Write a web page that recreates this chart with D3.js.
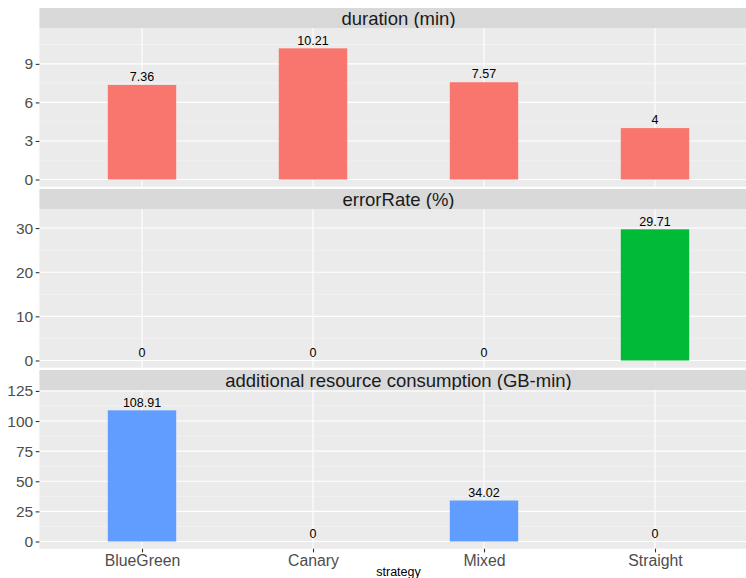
<!DOCTYPE html>
<html>
<head>
<meta charset="utf-8">
<script src="https://cdn.jsdelivr.net/npm/d3@7"></script>
<style>
  body { margin: 0; background: #fff; }
  svg { display: block; font-family: "Liberation Sans", Arial, Helvetica, sans-serif; }
</style>
</head>
<body>
<svg id="chart" width="746" height="578"></svg>
<script>
const categories = ["BlueGreen", "Canary", "Mixed", "Straight"];
const panelTitles = ["duration (min)", "errorRate (%)", "additional resource consumption (GB-min)"];
const durationValues = [7.36, 10.21, 7.57, 4];
const errorRateValues = [0, 0, 0, 29.71];
const resourceValues = [108.91, 0, 34.02, 0];
const durationTicks = [0, 3, 6, 9];
const errorRateTicks = [0, 10, 20, 30];
const resourceTicks = [0, 25, 50, 75, 100, 125];
const panelColors = ["#F8766D", "#00BA38", "#619CFF"];
const xAxisTitle = "strategy";

const panels = [
  { title: panelTitles[0], values: durationValues, ticks: durationTicks, color: panelColors[0] },
  { title: panelTitles[1], values: errorRateValues, ticks: errorRateTicks, color: panelColors[1] },
  { title: panelTitles[2], values: resourceValues, ticks: resourceTicks, color: panelColors[2] }
];

const svg = d3.select("#chart");
const left = 39.4, right = 757.6;
const stripTops = [8, 189, 370];
const stripH = 20;
const plotH = 158.7;

const x = d3.scalePoint().domain(categories).range([left, right]).padding(0.6);
const step = x.step();
const barW = step * 0.4;

panels.forEach((p, i) => {
  const st = stripTops[i];
  const top = st + stripH;
  const bottom = top + plotH;
  const maxV = d3.max(p.values) * 1.1;
  const y = d3.scaleLinear().domain([-0.05 * maxV, maxV * 1.05]).range([bottom, top]);

  const g = svg.append("g");
  // strip
  g.append("rect").attr("x", left).attr("y", st).attr("width", right - left).attr("height", stripH).attr("fill", "#D9D9D9");
  g.append("text").attr("x", (left + right) / 2).attr("y", st + stripH / 2).attr("dy", "0.36em")
    .attr("text-anchor", "middle").attr("font-size", 18.5).attr("fill", "#1A1A1A").text(p.title);
  // panel bg
  g.append("rect").attr("x", left).attr("y", top).attr("width", right - left).attr("height", plotH).attr("fill", "#EBEBEB");

  // minor grid
  const tstep = p.ticks[1] - p.ticks[0];
  const dom = y.domain();
  const minors = [];
  for (let k = -1; k <= p.ticks.length; k++) {
    const v = p.ticks[0] + (k + 0.5) * tstep;
    if (v >= dom[0] && v <= dom[1]) minors.push(v);
  }
  g.selectAll(".minor").data(minors).join("line")
    .attr("x1", left).attr("x2", right).attr("y1", d => y(d)).attr("y2", d => y(d))
    .attr("stroke", "#F5F5F5").attr("stroke-width", 0.55);
  // major grid
  g.selectAll(".majory").data(p.ticks).join("line")
    .attr("x1", left).attr("x2", right).attr("y1", d => y(d)).attr("y2", d => y(d))
    .attr("stroke", "#FFFFFF").attr("stroke-width", 1.1);
  g.selectAll(".majorx").data(categories).join("line")
    .attr("x1", d => x(d)).attr("x2", d => x(d)).attr("y1", top).attr("y2", bottom)
    .attr("stroke", "#FFFFFF").attr("stroke-width", 1.1);

  // bars
  const data = categories.map((c, j) => ({ c, v: p.values[j] }));
  g.selectAll(".bar").data(data).join("rect")
    .attr("x", d => x(d.c) - barW / 2).attr("width", barW)
    .attr("y", d => Math.min(y(d.v), y(0))).attr("height", d => Math.abs(y(0) - y(d.v)))
    .attr("fill", p.color);
  // labels
  g.selectAll(".lbl").data(data).join("text")
    .attr("x", d => x(d.c)).attr("y", d => y(d.v) - 3.8)
    .attr("text-anchor", "middle").attr("font-size", 12.5).attr("fill", "#000")
    .text(d => String(d.v));

  // y axis
  const ax = d3.axisLeft(y).tickValues(p.ticks).tickSize(3.7).tickPadding(2.5).tickFormat(d3.format("d"));
  const axg = g.append("g").attr("transform", `translate(${left},0)`).call(ax);
  axg.select(".domain").remove();
  axg.selectAll(".tick line").attr("stroke", "#333333").attr("stroke-width", 1.1);
  axg.selectAll(".tick text").attr("fill", "#4D4D4D").attr("font-size", 15.5)
    .attr("font-family", "'Liberation Sans', Arial, sans-serif");

  if (i === panels.length - 1) {
    const xa = d3.axisBottom(x).tickSize(3.7).tickPadding(2.5);
    const xg = g.append("g").attr("transform", `translate(0,${bottom})`).call(xa);
    xg.select(".domain").remove();
    xg.selectAll(".tick line").attr("stroke", "#333333").attr("stroke-width", 1.1);
    xg.selectAll(".tick text").attr("fill", "#4D4D4D").attr("font-size", 15.8)
      .attr("font-family", "'Liberation Sans', Arial, sans-serif");
    svg.append("text").attr("x", (left + right) / 2).attr("y", 575.5)
      .attr("text-anchor", "middle").attr("font-size", 12.5).attr("fill", "#000").text(xAxisTitle);
  }
});
</script>
</body>
</html>
